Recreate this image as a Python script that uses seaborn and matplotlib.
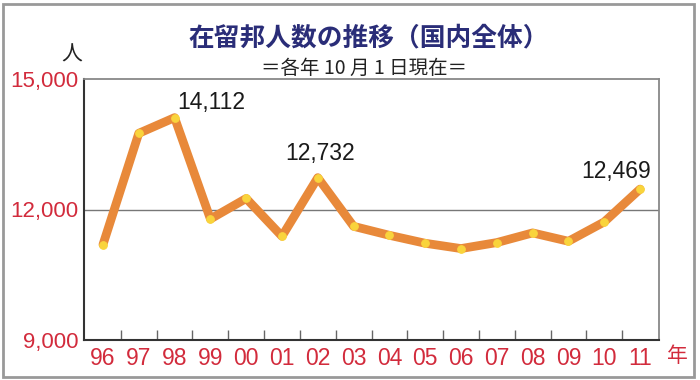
import numpy as np
import pandas as pd
import matplotlib
matplotlib.use("Agg")
import matplotlib.pyplot as plt
import seaborn as sns
from matplotlib import font_manager as fm
from matplotlib.patches import Rectangle
from matplotlib.ticker import FixedLocator

# ---- data ----
years = ["96", "97", "98", "99", "00", "01", "02", "03", "04", "05",
         "06", "07", "08", "09", "10", "11"]
residents = [11194, 13752, 14112, 11782, 12254, 11384, 12732, 11613,
             11407, 11224, 11102, 11240, 11462, 11270, 11714, 12469]
yticks = [9000, 12000, 15000]
ytick_labels = ["9,000", "12,000", "15,000"]
labeled_years = ["98", "02", "11"]
title = "在留邦人数の推移（国内全体）"
subtitle = "＝各年 10 月 1 日現在＝"

sns.set_theme(style="white")
names = {f.name for f in fm.fontManager.ttflist}
narrow = "Liberation Sans Narrow" if "Liberation Sans Narrow" in names else "Liberation Sans"
plt.rcParams["font.family"] = ["Liberation Sans", "Noto Sans CJK JP", "DejaVu Sans"]
cjk = ["Noto Sans CJK JP", "DejaVu Sans"]

df = pd.DataFrame({"idx": np.arange(len(years)), "year": years, "value": residents})

fig = plt.figure(figsize=(7, 3.8), dpi=100)
fig.patch.set_facecolor("white")
ax = fig.add_axes([84 / 700, 1 - 340 / 380, (659 - 84) / 700, (340 - 79) / 380])

sns.lineplot(data=df, x="idx", y="value", ax=ax, color="#E8893A", linewidth=6.3,
             marker="o", markersize=5.5, markerfacecolor="#F9D43C",
             markeredgecolor="#F9D43C", solid_capstyle="round", solid_joinstyle="round",
             zorder=3)

ax.set_xlim(-0.53, len(years) - 1 + 0.53)
ax.set_ylim(9000, 15000)
ax.axhline(12000, color="#777777", linewidth=1.0, zorder=1)

red = "#D22B3C"
ax.set_yticks(yticks)
ax.set_yticklabels(ytick_labels, fontfamily=narrow, fontsize=16, color=red)
ax.set_xticks(df["idx"])
ax.set_xticklabels(years, fontfamily=narrow, fontsize=16.5, color=red)
ax.tick_params(axis="both", which="major", length=0)
ax.tick_params(axis="y", pad=4)
ax.tick_params(axis="x", pad=5)
ax.xaxis.set_minor_locator(FixedLocator(np.arange(len(years) - 1) + 0.5))
ax.tick_params(axis="x", which="minor", direction="in", length=7, width=1.0,
               color="#666666", bottom=True)
ax.set_xlabel("")
ax.set_ylabel("")

for side in ["left", "bottom"]:
    ax.spines[side].set_color("#333333")
    ax.spines[side].set_linewidth(1.5)
for side in ["top", "right"]:
    ax.spines[side].set_color("#888888")
    ax.spines[side].set_linewidth(1.3)

offsets = {"98": (37, 15), "02": (2, 24), "11": (-24, 18)}
for y in labeled_years:
    i = years.index(y)
    v = residents[i]
    ax.annotate(f"{v:,}", xy=(i, v), xytext=offsets[y], textcoords="offset pixels",
                ha="center", va="center", fontsize=16.5, color="#1a1a1a",
                fontfamily="Liberation Sans")

fig.text(369 / 700, 1 - 38 / 380, title, ha="center", va="center", fontsize=18.5,
         fontweight="bold", color="#2A2D78", fontfamily=cjk)
fig.text(364 / 700, 1 - 68 / 380, subtitle, ha="center", va="center", fontsize=14,
         color="#222222", fontfamily=cjk)
fig.text(72 / 700, 1 - 55 / 380, "人", ha="center", va="center", fontsize=15,
         color="#222222", fontfamily=cjk)
fig.text(677 / 700, 1 - 356 / 380, "年", ha="center", va="center", fontsize=15,
         color=red, fontfamily=cjk)

fig.add_artist(Rectangle((3 / 700, 1 - 377 / 380), 691 / 700, 373 / 380,
                         transform=fig.transFigure, fill=False,
                         edgecolor="#999999", linewidth=2))

fig.savefig("out.png", dpi=100)
